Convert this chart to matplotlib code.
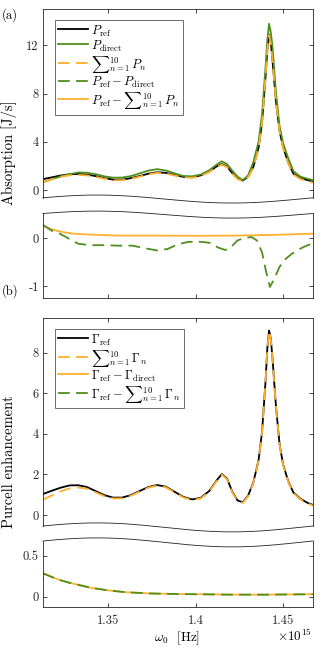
import numpy as np
import matplotlib
matplotlib.use("Agg")
import matplotlib.pyplot as plt

plt.rcParams['font.family'] = 'serif'
plt.rcParams['font.serif'] = ['cmr10', 'DejaVu Serif']
plt.rcParams['mathtext.fontset'] = 'cm'
plt.rcParams['axes.unicode_minus'] = False
plt.rcParams['axes.formatter.use_mathtext'] = True

# ---------------- data (x in units of 1e15 Hz) ----------------
x_main = [1.313, 1.318, 1.323, 1.328, 1.333, 1.338, 1.343, 1.348, 1.353, 1.358,
          1.363, 1.368, 1.373, 1.378, 1.383, 1.388, 1.393, 1.398, 1.403, 1.408,
          1.412, 1.415, 1.418, 1.421, 1.424, 1.427, 1.430, 1.433, 1.436, 1.438,
          1.440, 1.441, 1.442, 1.443, 1.444, 1.446, 1.448, 1.450, 1.453, 1.456,
          1.460, 1.464, 1.467]

P_ref = [0.90, 1.05, 1.20, 1.30, 1.33, 1.28, 1.15, 0.99, 0.86, 0.86,
         0.98, 1.15, 1.35, 1.47, 1.42, 1.25, 1.09, 1.06, 1.21, 1.55,
         1.95, 2.15, 1.95, 1.40, 0.95, 0.78, 1.10, 1.90, 3.50, 5.60,
         9.40, 11.6, 12.9, 12.3, 10.7, 7.30, 4.90, 3.55, 2.25, 1.33,
         0.98, 0.82, 0.70]
P_direct = [0.65, 0.90, 1.12, 1.30, 1.45, 1.43, 1.31, 1.13, 1.02, 1.03,
            1.15, 1.37, 1.60, 1.73, 1.62, 1.38, 1.16, 1.13, 1.28, 1.65,
            2.10, 2.38, 2.15, 1.60, 1.10, 0.82, 1.20, 2.30, 4.00, 6.30,
            10.2, 12.4, 13.8, 13.1, 11.8, 8.00, 5.30, 3.90, 2.60, 1.55,
            1.10, 0.93, 0.82]
P_sum = [0.65, 0.88, 1.10, 1.22, 1.25, 1.21, 1.09, 0.93, 0.80, 0.81,
         0.93, 1.10, 1.30, 1.42, 1.37, 1.20, 1.04, 1.01, 1.16, 1.50,
         1.90, 2.10, 1.90, 1.35, 0.90, 0.73, 1.05, 1.85, 3.45, 5.55,
         9.35, 11.5, 12.85, 12.2, 10.65, 7.25, 4.85, 3.50, 2.20, 1.27,
         0.90, 0.73, 0.60]

x_resA_g = [1.313, 1.318, 1.323, 1.327, 1.333, 1.340, 1.348, 1.356, 1.364, 1.372,
            1.378, 1.384, 1.390, 1.396, 1.403, 1.408, 1.413, 1.417, 1.420, 1.424,
            1.428, 1.432, 1.435, 1.438, 1.440, 1.4425, 1.445, 1.448, 1.451, 1.455,
            1.460, 1.464, 1.467]
P_ref_minus_direct = [0.27, 0.15, 0.08, 0.00, -0.12, -0.15, -0.15, -0.16, -0.16, -0.22,
                      -0.26, -0.23, -0.13, -0.08, -0.08, -0.10, -0.20, -0.25, -0.20, -0.05,
                      0.00, 0.02, -0.05, -0.30, -0.65, -1.02, -0.85, -0.60, -0.45, -0.33,
                      -0.22, -0.15, -0.12]
x_resA_o = [1.313, 1.318, 1.323, 1.330, 1.340, 1.355, 1.375, 1.400, 1.425, 1.445, 1.467]
P_ref_minus_sum = [0.25, 0.18, 0.13, 0.09, 0.07, 0.05, 0.05, 0.045, 0.05, 0.065, 0.09]

G_ref = [1.04, 1.20, 1.35, 1.46, 1.47, 1.38, 1.18, 0.98, 0.86, 0.86,
         0.98, 1.18, 1.38, 1.48, 1.40, 1.15, 0.90, 0.77, 0.85, 1.20,
         1.70, 2.02, 1.80, 1.15, 0.72, 0.63, 0.95, 1.60, 2.70, 4.10,
         6.60, 8.20, 9.10, 8.70, 7.70, 5.30, 3.50, 2.50, 1.65, 1.10,
         0.80, 0.60, 0.50]
G_sum = [0.76, 0.97, 1.17, 1.31, 1.36, 1.30, 1.12, 0.93, 0.82, 0.82,
         0.95, 1.15, 1.35, 1.45, 1.37, 1.12, 0.87, 0.74, 0.82, 1.17,
         1.67, 1.99, 1.77, 1.12, 0.69, 0.60, 0.92, 1.57, 2.67, 4.07,
         6.57, 8.17, 9.07, 8.67, 7.67, 5.27, 3.47, 2.47, 1.62, 1.07,
         0.77, 0.57, 0.47]

x_resB = [1.313, 1.318, 1.323, 1.328, 1.333, 1.340, 1.349, 1.360, 1.374, 1.390,
          1.403, 1.420, 1.440, 1.455, 1.467]
G_ref_minus_direct = [0.285, 0.24, 0.20, 0.17, 0.145, 0.11, 0.08, 0.055, 0.04, 0.032,
                      0.03, 0.025, 0.025, 0.028, 0.03]
G_ref_minus_sum = [0.285, 0.24, 0.20, 0.17, 0.145, 0.11, 0.08, 0.055, 0.04, 0.032,
                   0.03, 0.025, 0.025, 0.028, 0.03]

xticks = [1.35, 1.40, 1.45]
xticklabels = ['1.35', '1.4', '1.45']

# ---------------- styling ----------------
BLACK = '#000000'
GREEN = '#4f8f1f'
ORANGE = '#ffb02e'
AX = '#262626'
LW = 1.3
DASH = (6.5, 3.5)

W, H = 324, 650
fig = plt.figure(figsize=(W / 100, H / 100), dpi=100)

L, R = 43, 313


def add_ax(top, bottom):
    return fig.add_axes([L / W, 1 - bottom / H, (R - L) / W, (bottom - top) / H])


axA = add_ax(9.3, 197.8)
axAr = add_ax(213.5, 297.7)
axB = add_ax(318.3, 526.0)
axBr = add_ax(541.0, 606.7)

xlim = (1.3129, 1.4671)


def style(ax, kind):
    ax.set_xlim(*xlim)
    ax.set_xticks(xticks)
    for s in ax.spines.values():
        s.set_color(AX)
        s.set_linewidth(0.6)
    ax.tick_params(direction='in', length=3, width=0.6, colors=AX,
                   labelsize=9, pad=3)
    if kind == 'main':
        ax.spines['bottom'].set_visible(False)
        ax.tick_params(axis='x', top=True, bottom=False, labelbottom=False)
    else:
        ax.spines['top'].set_visible(False)
        ax.tick_params(axis='x', top=False, bottom=True, labelbottom=False)
    ax.tick_params(axis='y', left=True, right=True)


def wave(ax, kind, amp_px):
    bb = ax.get_position()
    hpx = bb.height * H
    f = np.linspace(0, 1, 300)
    off = amp_px * (np.cos(2 * np.pi * (f - 0.2)) - np.cos(2 * np.pi * 0.2)) / hpx
    base = 0.0 if kind == 'main' else 1.0
    ax.plot(f, base + off, transform=ax.transAxes, color='#222222', lw=0.6,
            clip_on=False, zorder=5)


# ---- panel (a) main
axA.plot(x_main, P_ref, color=BLACK, lw=LW, label=r'$P_{\rm ref}$')
axA.plot(x_main, P_direct, color=GREEN, lw=LW, label=r'$P_{\rm direct}$')
axA.plot(x_main, P_sum, color=ORANGE, lw=LW, dashes=DASH,
         label=r'${\sum}_{n=1}^{10}\, P_n$')
axA.plot([], [], color=GREEN, lw=LW, dashes=DASH,
         label=r'$P_{\rm ref} - P_{\rm direct}$')
axA.plot([], [], color=ORANGE, lw=LW,
         label=r'$P_{\rm ref} - {\sum}_{n=1}^{10}\, P_n$')
axA.set_ylim(-0.65, 15)
axA.set_yticks([0, 4, 8, 12])
axA.set_yticklabels(['0', '4', '8', '12'])
style(axA, 'main')
wave(axA, 'main', 4)

# ---- panel (a) residual
axAr.plot(x_resA_o, P_ref_minus_sum, color=ORANGE, lw=LW)
axAr.plot(x_resA_g, P_ref_minus_direct, color=GREEN, lw=LW, dashes=DASH)
axAr.set_ylim(-1.244, 0.51)
axAr.set_yticks([-1, 0])
axAr.set_yticklabels(['-1', '0'])
style(axAr, 'res')
wave(axAr, 'res', 3.5)

# ---- panel (b) main
axB.plot(x_main, G_ref, color=BLACK, lw=LW, label=r'$\Gamma_{\rm ref}$')
axB.plot(x_main, G_sum, color=ORANGE, lw=LW, dashes=DASH,
         label=r'${\sum}_{n=1}^{10}\, \Gamma_n$')
axB.plot([], [], color=ORANGE, lw=LW,
         label=r'$\Gamma_{\rm ref} - \Gamma_{\rm direct}$')
axB.plot([], [], color=GREEN, lw=LW, dashes=DASH,
         label=r'$\Gamma_{\rm ref} - {\sum}_{n=1}^{10}\, \Gamma_n$')
axB.set_ylim(-0.54, 9.70)
axB.set_yticks([0, 2, 4, 6, 8])
axB.set_yticklabels(['0', '2', '4', '6', '8'])
style(axB, 'main')
wave(axB, 'main', 4.5)

# ---- panel (b) residual
axBr.plot(x_resB, G_ref_minus_direct, color=ORANGE, lw=LW)
axBr.plot(x_resB, G_ref_minus_sum, color=GREEN, lw=LW, dashes=DASH)
axBr.set_ylim(-0.122, 0.68)
axBr.set_yticks([0, 0.5])
axBr.set_yticklabels(['0', '0.5'])
style(axBr, 'res')
axBr.tick_params(axis='x', labelbottom=True, pad=6)
axBr.set_xticklabels(xticklabels)
wave(axBr, 'res', 4.5)

# legends
legkw = dict(loc='upper left', fontsize=9, frameon=True, fancybox=False,
             framealpha=1, edgecolor='#555555', borderaxespad=0,
             handlelength=2.4, handletextpad=0.25, borderpad=0.25,
             labelspacing=0.0, handleheight=1.38)
legA = axA.legend(bbox_to_anchor=(12 / 270, 1 - 10.7 / 188.5), **legkw)
legA.get_frame().set_linewidth(0.6)
legB = axB.legend(bbox_to_anchor=(12 / 270, 1 - 10.7 / 207.7), **legkw)
legB.get_frame().set_linewidth(0.6)


def ftext(xp, yp, s, **kw):
    fig.text(xp / W, 1 - yp / H, s, **kw)


ftext(2, 15, '(a)', fontsize=9, va='center', ha='left')
ftext(2, 291, '(b)', fontsize=9, va='center', ha='left')
ftext(9, 153, 'Absorption [J/s]', fontsize=10.5, rotation=90, va='center', ha='center')
ftext(9, 462, 'Purcell enhancement', fontsize=10.5, rotation=90, va='center', ha='center')
ftext(177, 638, r'$\omega_0$  [Hz]', fontsize=9.5, va='center', ha='center')
ftext(312, 636, r'$\times 10^{15}$', fontsize=9.5, va='center', ha='right')

fig.savefig('out.png', dpi=100)
